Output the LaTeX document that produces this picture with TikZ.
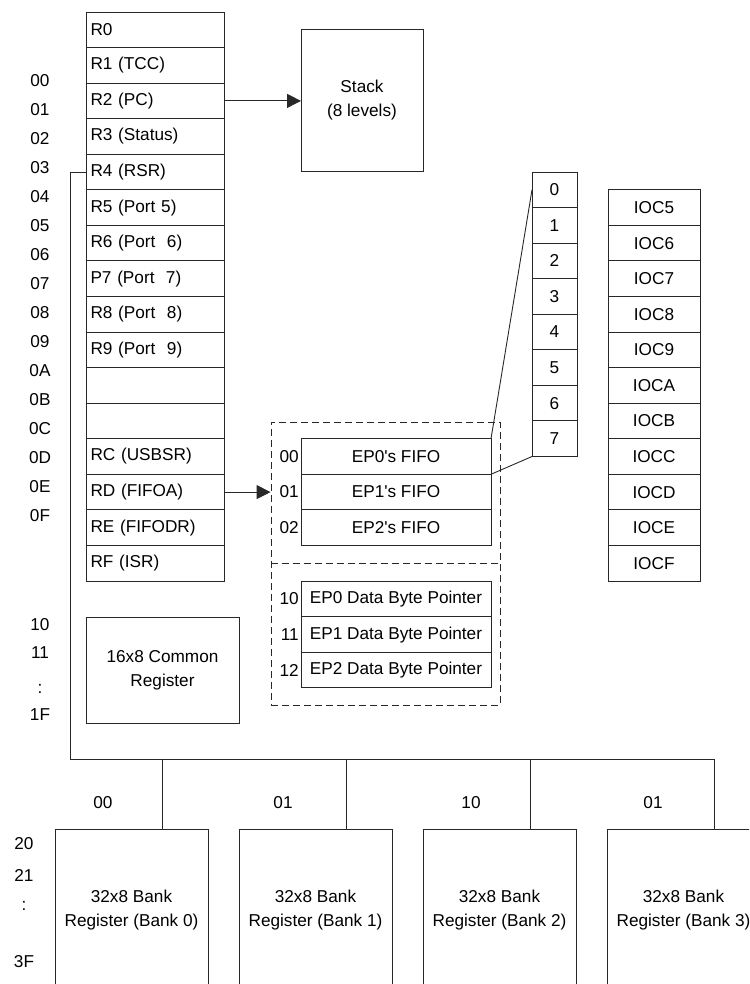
\documentclass[tikz,border=0pt]{standalone}
\usepackage{fontspec}
\setmainfont{Liberation Sans}
\usetikzlibrary{arrows.meta, positioning}
\definecolor{LineGray}{RGB}{40, 40, 40}

\begin{document}
\begin{tikzpicture}[x=1pt, y=-1pt, font=\fontsize{17.2}{24}\selectfont, >={Triangle[length=14pt, width=14pt]},
    reg/.style={draw=LineGray, line width=0.9pt, outer sep=0pt, minimum height=35.56pt, text width=129pt, inner xsep=4.5pt, align=left},
    slot/.style={draw=LineGray, line width=0.9pt, outer sep=0pt, minimum height=35.56pt, minimum width=45pt, inner sep=0pt},
    ioc/.style={draw=LineGray, line width=0.9pt, outer sep=0pt, minimum height=35.56pt, minimum width=92pt, inner sep=0pt},
    fifo/.style={draw=LineGray, line width=0.9pt, outer sep=0pt, minimum height=35.56pt, minimum width=190pt, inner sep=0pt},
    block/.style={draw=LineGray, line width=0.9pt, outer sep=0pt, align=center},
    frame/.style={draw=LineGray, line width=0.9pt, dash pattern=on 7pt off 4pt},
    wire/.style={draw=LineGray, line width=0.9pt}
  ]
  \useasboundingbox (0,0) rectangle (749,984);
  \clip (0,0) rectangle (749,984);

  % register file
  \node[reg] (r0) at (155,29.8) {R0};
  \node[reg, below=0pt of r0] (r1) {R1 (TCC)};
  \node[reg, below=0pt of r1] (r2) {R2 (PC)};
  \node[reg, below=0pt of r2] (r3) {R3 (Status)};
  \node[reg, below=0pt of r3] (r4) {R4 (RSR)};
  \node[reg, below=0pt of r4] (r5) {R5 (Port 5)};
  \node[reg, below=0pt of r5] (r6) {R6 (Port~~6)};
  \node[reg, below=0pt of r6] (r7) {P7 (Port~~7)};
  \node[reg, below=0pt of r7] (r8) {R8 (Port~~8)};
  \node[reg, below=0pt of r8] (r9) {R9 (Port~~9)};
  \node[reg, below=0pt of r9] (ra) {};
  \node[reg, below=0pt of ra] (rb) {};
  \node[reg, below=0pt of rb] (rc) {RC (USBSR)};
  \node[reg, below=0pt of rc] (rd) {RD (FIFOA)};
  \node[reg, below=0pt of rd] (re) {RE (FIFODR)};
  \node[reg, below=0pt of re] (rf) {RF (ISR)};

  \foreach \adr [count=\i from 0] in {00,01,02,03,04,05,06,07,08,09,0A,0B,0C,0D,0E,0F}
    \node (adr\i) at (40,81+29*\i) {\adr};

  % stack
  \node[block, minimum width=122pt, minimum height=142pt] (stack) at (362,100) {Stack\\(8 levels)};
  \draw[wire, ->] (r2.east) -- (r2.east -| stack.west);

  % stack levels
  \node[slot] (s0) at (554.5,189.8) {0};
  \node[slot, below=0pt of s0] (s1) {1};
  \node[slot, below=0pt of s1] (s2) {2};
  \node[slot, below=0pt of s2] (s3) {3};
  \node[slot, below=0pt of s3] (s4) {4};
  \node[slot, below=0pt of s4] (s5) {5};
  \node[slot, below=0pt of s5] (s6) {6};
  \node[slot, below=0pt of s6] (s7) {7};

  % control registers
  \node[ioc] (ioc5) at (654,207.6) {IOC5};
  \node[ioc, below=0pt of ioc5] (ioc6) {IOC6};
  \node[ioc, below=0pt of ioc6] (ioc7) {IOC7};
  \node[ioc, below=0pt of ioc7] (ioc8) {IOC8};
  \node[ioc, below=0pt of ioc8] (ioc9) {IOC9};
  \node[ioc, below=0pt of ioc9] (ioca) {IOCA};
  \node[ioc, below=0pt of ioca] (iocb) {IOCB};
  \node[ioc, below=0pt of iocb] (iocc) {IOCC};
  \node[ioc, below=0pt of iocc] (iocd) {IOCD};
  \node[ioc, below=0pt of iocd] (ioce) {IOCE};
  \node[ioc, below=0pt of ioce] (iocf) {IOCF};

  % FIFO and data byte pointers
  \node[frame, minimum width=229pt, minimum height=283pt] (epbox) at (385.5,563.5) {};
  \draw[frame] (epbox.west) -- (epbox.east);
  \node[fifo] (f0) at (396,456.5) {EP0\textquotesingle s FIFO};
  \node[fifo, below=0pt of f0] (f1) {EP1\textquotesingle s FIFO};
  \node[fifo, below=0pt of f1] (f2) {EP2\textquotesingle s FIFO};
  \node[fifo] (p0) at (396,599) {EP0 Data Byte Pointer};
  \node[fifo, below=0pt of p0] (p1) {EP1 Data Byte Pointer};
  \node[fifo, below=0pt of p1] (p2) {EP2 Data Byte Pointer};
  \node[left=1pt of f0, inner sep=1pt] (f0adr) {00};
  \node[left=1pt of f1, inner sep=1pt] (f1adr) {01};
  \node[left=1pt of f2, inner sep=1pt] (f2adr) {02};
  \node[left=1pt of p0, inner sep=1pt] (p0adr) {10};
  \node[left=1pt of p1, inner sep=1pt] (p1adr) {11};
  \node[left=1pt of p2, inner sep=1pt] (p2adr) {12};
  \draw[wire, ->] (rd.east) -- (rd.east -| epbox.west);
  \draw[wire] (f0.north east) -- (s0.west);
  \draw[wire] (f0.south east) -- (s7.south west);

  % common register
  \node[block, minimum width=153pt, minimum height=106pt] (common) at (162.5,670) {16x8 Common\\Register};
  \node (c10) at (40,625) {10};
  \node (c11) at (40,653) {11};
  \node (cdots) at (40,689) {:};
  \node (c1f) at (40,715) {1F};

  % banks
  \node[block, minimum width=153pt, minimum height=163pt] (bank0) at (131.5,910.5) {32x8 Bank\\Register (Bank 0)};
  \node[block, minimum width=153pt, minimum height=163pt, right=31pt of bank0] (bank1) {32x8 Bank\\Register (Bank 1)};
  \node[block, minimum width=153pt, minimum height=163pt, right=31pt of bank1] (bank2) {32x8 Bank\\Register (Bank 2)};
  \node[block, minimum width=153pt, minimum height=163pt, right=31pt of bank2] (bank3) {32x8 Bank\\Register (Bank 3)};
  \node (b20) at (24,844) {20};
  \node (b21) at (24,875) {21};
  \node (bdots) at (24,906) {:};
  \node (b3f) at (24,962) {3F};
  \node (sel0) at (103,803) {00};
  \node (sel1) at (283,803) {01};
  \node (sel2) at (471,803) {10};
  \node (sel3) at (653,803) {01};

  % bank select bus from RSR
  \coordinate (busL) at (70,759);
  \coordinate (tap0) at ([xshift=-46pt]bank0.north east);
  \coordinate (tap1) at ([xshift=-46pt]bank1.north east);
  \coordinate (tap2) at ([xshift=-46pt]bank2.north east);
  \coordinate (tap3) at ([xshift=-46pt]bank3.north east);
  \draw[wire] (r4.west) -| (busL) -| (tap3);
  \draw[wire] (tap0) -- (tap0 |- busL);
  \draw[wire] (tap1) -- (tap1 |- busL);
  \draw[wire] (tap2) -- (tap2 |- busL);
\end{tikzpicture}
\end{document}
